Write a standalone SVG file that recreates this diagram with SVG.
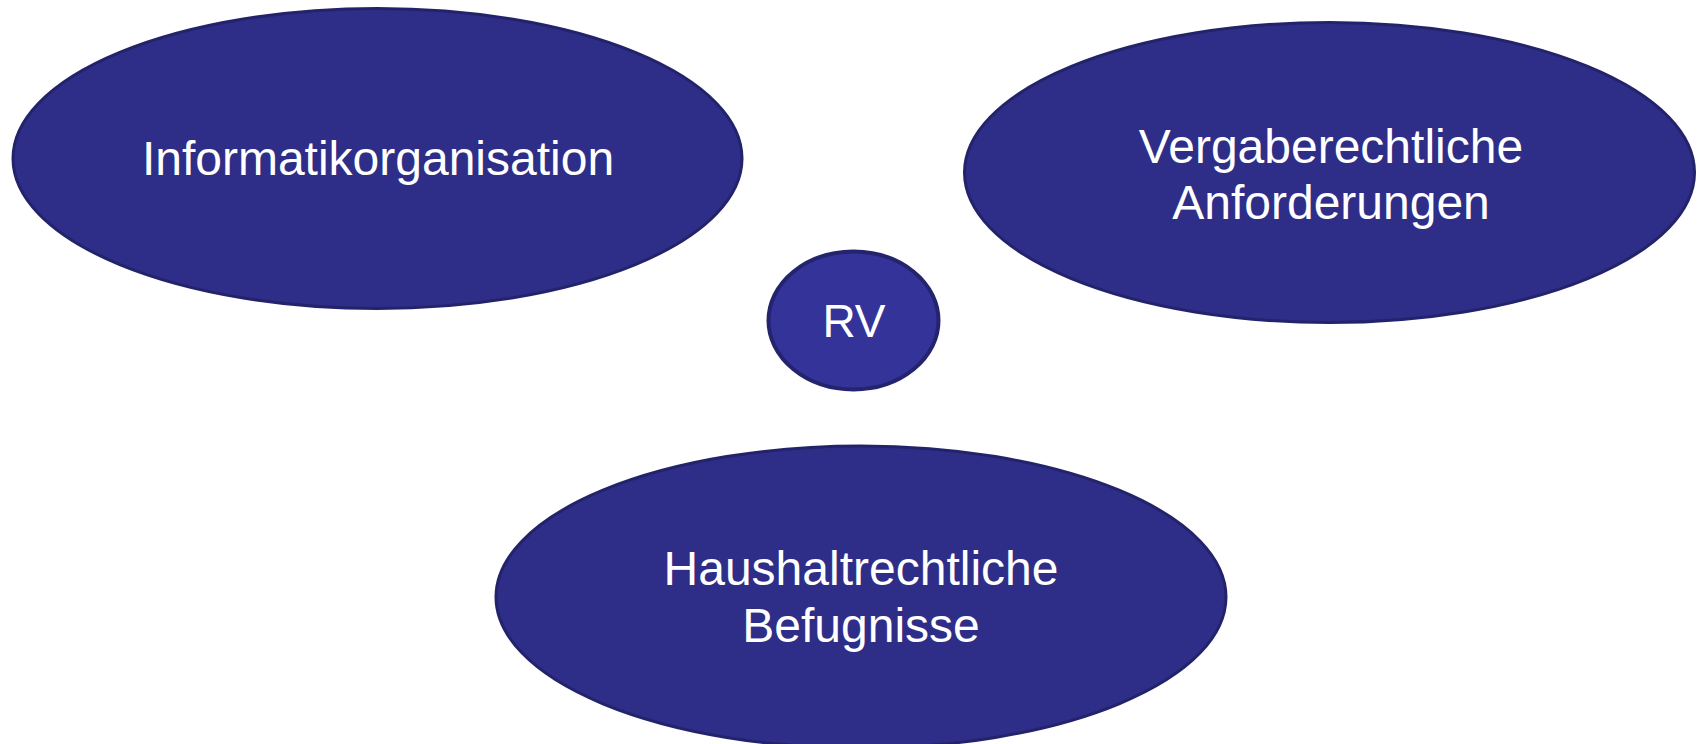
<svg xmlns="http://www.w3.org/2000/svg" width="1698" height="744" viewBox="0 0 1698 744">
<style>
.big{fill:#2E2E88;stroke:#23236C;stroke-width:3}
.small{fill:#333399;stroke:#24246E;stroke-width:4}
text{font-family:"Liberation Sans",Arial,sans-serif;fill:#FFFFFF;text-anchor:middle;font-size:48px}
</style>
<rect width="1698" height="744" fill="#FFFFFF"/>
<g id="connectors"></g>
<g id="node-informatik">
<ellipse class="big" cx="377.5" cy="158.5" rx="364.5" ry="150"/>
<text x="378" y="175">Informatikorganisation</text>
</g>
<g id="node-vergabe">
<ellipse class="big" cx="1329.5" cy="172.5" rx="365" ry="150"/>
<text x="1331" y="162.7">Vergaberechtliche</text>
<text x="1331" y="219.3">Anforderungen</text>
</g>
<g id="node-haushalt">
<ellipse class="big" cx="861" cy="597" rx="365" ry="151"/>
<text x="861" y="585">Haushaltrechtliche</text>
<text x="861" y="641.7">Befugnisse</text>
</g>
<g id="node-rv">
<ellipse class="small" cx="853.5" cy="320.5" rx="85" ry="69"/>
<text x="854" y="337" style="font-size:46px">RV</text>
</g>
</svg>
